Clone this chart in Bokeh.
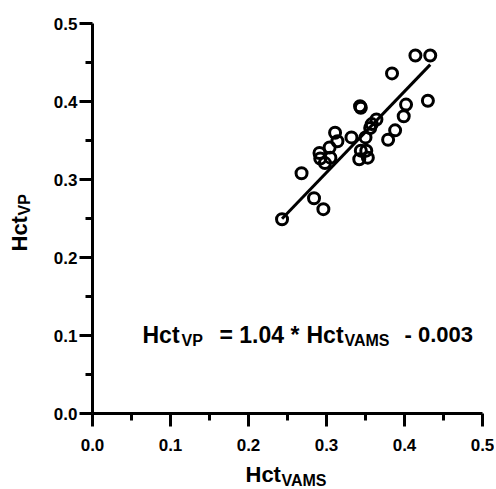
import math
from bokeh.plotting import figure
from bokeh.models import Range1d, FixedTicker, Label
from bokeh.embed import file_html
from bokeh.resources import INLINE

# data
hct_vams = [0.243, 0.284, 0.296, 0.268, 0.291, 0.292, 0.298, 0.305, 0.304, 0.314,
            0.311, 0.332, 0.343, 0.344, 0.344, 0.342, 0.351, 0.353, 0.350, 0.356,
            0.358, 0.364, 0.379, 0.388, 0.384, 0.399, 0.402, 0.430, 0.414, 0.433]
hct_vp = [0.249, 0.276, 0.262, 0.308, 0.334, 0.327, 0.321, 0.328, 0.341, 0.349,
          0.360, 0.354, 0.394, 0.392, 0.337, 0.326, 0.337, 0.328, 0.354, 0.366,
          0.371, 0.377, 0.351, 0.363, 0.436, 0.381, 0.396, 0.401, 0.459, 0.459]
slope = 1.04
intercept = -0.003
major_ticks = [0.0, 0.1, 0.2, 0.3, 0.4, 0.5]
minor_ticks = [0.05, 0.15, 0.25, 0.35, 0.45]
tick_labels = {0.0: "0.0", 0.1: "0.1", 0.2: "0.2", 0.3: "0.3", 0.4: "0.4", 0.5: "0.5"}

FONT = "Liberation Sans"
W, H = 494, 489
X0PX, Y0PX, SCALE = 92.0, 413.0, 780.0  # pixel of data (0,0) and px per unit


def dx(px):
    return (px - X0PX) / SCALE


def dy(py):
    return (Y0PX - py) / SCALE


p = figure(width=W, height=H,
           x_range=Range1d(dx(0), dx(W)), y_range=Range1d(dy(H), dy(0)),
           output_backend="svg", toolbar_location=None,
           min_border=0)
p.outline_line_color = None
p.grid.visible = False
p.background_fill_color = "white"
p.border_fill_color = "white"

for ax in (p.xaxis[0], p.yaxis[0]):
    ax.fixed_location = 0
    ax.bounds = (0, 0.5)
    ax.ticker = FixedTicker(ticks=major_ticks, minor_ticks=minor_ticks)
    ax.major_label_overrides = tick_labels
    ax.axis_line_width = 3
    ax.axis_line_color = "black"
    ax.major_tick_line_width = 3
    ax.major_tick_line_color = "black"
    ax.major_tick_out = 13
    ax.major_tick_in = 0
    ax.minor_tick_line_width = 3
    ax.minor_tick_line_color = "black"
    ax.minor_tick_out = 7
    ax.minor_tick_in = 0
    ax.major_label_text_font = FONT
    ax.major_label_text_font_style = "bold"
    ax.major_label_text_font_size = "17px"
    ax.major_label_text_color = "black"
p.xaxis[0].major_label_standoff = 12
p.yaxis[0].major_label_standoff = 2

# regression line
x0, x1 = min(hct_vams), max(hct_vams)
p.line([x0, x1], [slope * x0 + intercept, slope * x1 + intercept],
       line_color="black", line_width=3)

p.scatter(hct_vams, hct_vp, marker="circle", size=11, fill_color=None,
          line_color="black", line_width=3)


def lab(text, px, py, size, angle=0.0):
    p.add_layout(Label(x=dx(px), y=dy(py), text=text, text_font=FONT,
                       text_font_style="bold", text_font_size=size,
                       text_color="black", angle=angle,
                       text_align="left", text_baseline="alphabetic"))


# x axis label
lab("Hct", 245, 474, "22px")
lab("VAMS", 281, 480, "16px")
# y axis label (rotated)
lab("Hct", 19, 251, "22px", angle=math.pi / 2)
lab("VP", 24, 215, "16px", angle=math.pi / 2)
# equation
lab("Hct", 142, 334, "23px")
lab("VP", 181, 340, "16px")
lab("= 1.04 *", 219, 334, "23px")
lab("Hct", 306, 334, "23px")
lab("VAMS", 344, 340, "16px")
lab("- 0.003", 404, 334, "22px")

open("out.html", "w").write(file_html(p, INLINE))
